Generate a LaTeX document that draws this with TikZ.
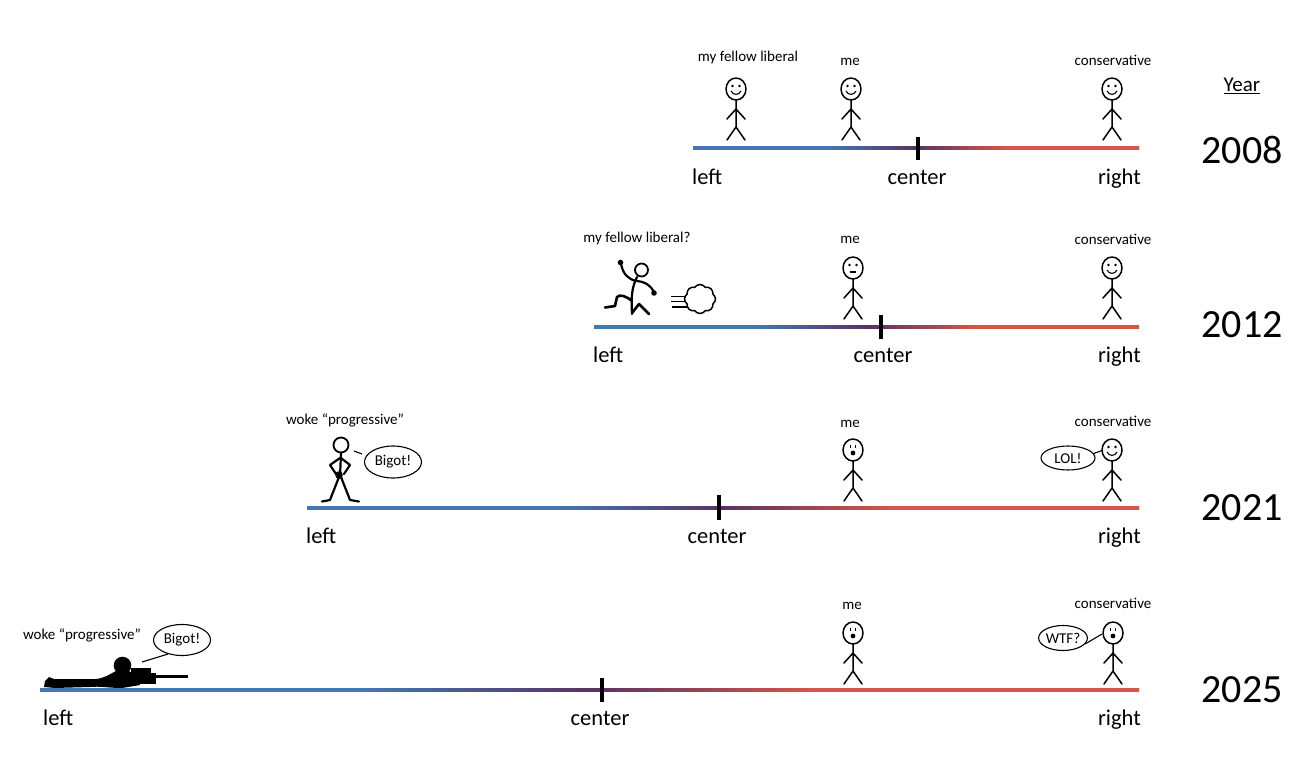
\documentclass[tikz,border=0pt]{standalone}
\usepackage{fontspec}
\setmainfont{Carlito}
\usetikzlibrary{shapes.geometric,shapes.symbols}
\definecolor{lblue}{RGB}{68,118,178}
\definecolor{lmid}{RGB}{88,52,98}
\definecolor{lred}{RGB}{214,84,74}
\pgfdeclarehorizontalshading{lrshade}{100bp}{color(0bp)=(lblue); color(25bp)=(lblue); color(40bp)=(lblue); color(50bp)=(lmid); color(60bp)=(lred); color(75bp)=(lred); color(100bp)=(lred)}
\tikzset{
  fig/.style={line width=1.5pt, line cap=round, line join=round},
  figbody/.pic={
    \draw[fig] (0,0) ellipse[x radius=10pt, y radius=11pt];
    \draw[fig] (0,11)--(0,38) (-9,30)--(0,20)--(9,30) (-9,51)--(0,38)--(9,51);},
  smileman/.pic={\pic{figbody};
    \fill (-3.5,-3) circle[radius=1.4pt] (3.5,-3) circle[radius=1.4pt];
    \draw[line width=1.1pt] (-5,2) .. controls (-3,6.5) and (3,6.5) .. (5,2);},
  flatman/.pic={\pic{figbody};
    \fill (-3.5,-3) circle[radius=1.4pt] (3.5,-3) circle[radius=1.4pt];
    \draw[line width=1.1pt] (-3,4)--(3,4);},
  shockman/.pic={\pic{figbody};
    \draw[line width=1.1pt] (-2.5,-5.5)--(-2.5,-2.5) (2.5,-5.5)--(2.5,-2.5);
    \fill (0,3) circle[radius=2.4pt];},
  lab/.style={font=\fontsize{15}{18}\selectfont, inner sep=0pt, anchor=base},
  axlab/.style={font=\fontsize{22.5}{27}\selectfont, inner sep=0pt},
  yearlab/.style={font=\fontsize{40}{48}\selectfont, inner sep=0pt},
  bubble/.style={draw, ellipse, line width=1.1pt, inner sep=0pt, font=\fontsize{15}{18}\selectfont},
  ticker/.style={line width=3.2pt},
  runner/.style={line width=2.2pt, line cap=round, line join=round},
}
\begin{document}
\begin{tikzpicture}[x=1pt,y=-1pt]
\useasboundingbox (0,0) rectangle (1296,784);
\fill[white] (0,0) rectangle (1296,784);

% Year header
\node[inner sep=0pt, font=\fontsize{21}{25}\selectfont] (year) at (1242,86) {\underline{Year}};

% ---------------- 2008 ----------------
\shade[shading=lrshade] (693,146.3) rectangle (1139,149.7);
\draw[ticker] (918,137)--(918,160);
\node[axlab, anchor=base west] (left1) at (692,184) {left};
\node[axlab, anchor=base] (center1) at (917,184) {center};
\node[axlab, anchor=base east] (right1) at (1141,184) {right};
\node[yearlab] (y2008) at (1242,150) {2008};
\node[lab] (lib1) at (748,62) {my fellow liberal};
\node[lab] (me1) at (850,66) {me};
\node[lab] (con1) at (1113,66) {conservative};
\pic at (736,89) {smileman};
\pic at (851,89) {smileman};
\pic at (1112,89) {smileman};

% ---------------- 2012 ----------------
\shade[shading=lrshade] (594,325.3) rectangle (1139,328.7);
\draw[ticker] (881,315)--(881,339);
\node[axlab, anchor=base west] (left2) at (593,362) {left};
\node[axlab, anchor=base] (center2) at (883,362) {center};
\node[axlab, anchor=base east] (right2) at (1141,362) {right};
\node[yearlab] (y2012) at (1242,325) {2012};
\node[lab] (lib2) at (637,242) {my fellow liberal?};
\node[lab] (me2) at (850,243) {me};
\node[lab] (con2) at (1113,244) {conservative};
\pic at (853,268) {flatman};
\pic at (1112,268) {smileman};
% running figure
\draw[runner, line width=1.8pt] (641.5,270) circle[radius=6.5pt];
\draw[runner] (637,277) .. controls (632,287) and (631,296) .. (632,314);
\draw[runner] (636,281) .. controls (628,279) and (623,274) .. (621,264);
\fill (620.5,262.5) circle[radius=2.8pt];
\draw[runner] (637,281) .. controls (646,282) and (651,286) .. (654,292);
\fill (654,293) circle[radius=2.8pt];
\draw[runner, line width=2.6pt] (632,301) .. controls (626,296) and (620,294) .. (617,297) -- (615,306) -- (605,307.5);
\draw[runner, line width=2.6pt] (632,313) -- (639,304) -- (649,314);
% speed lines and puff
\draw[line width=1.5pt] (671,296.5)--(687,296.5) (671,301.5)--(688,301.5) (672,307)--(687,307);
\node[cloud, draw, cloud puffs=8, cloud puff arc=110, aspect=1.05, minimum width=31pt, minimum height=29pt, line width=1.5pt, fill=white, inner sep=0pt] (puff) at (700,299) {};

% ---------------- 2021 ----------------
\shade[shading=lrshade] (307,506.3) rectangle (1139,509.7);
\draw[ticker] (719,495)--(719,520);
\node[axlab, anchor=base west] (left3) at (306,543) {left};
\node[axlab, anchor=base] (center3) at (717,543) {center};
\node[axlab, anchor=base east] (right3) at (1141,543) {right};
\node[yearlab] (y2021) at (1242,508) {2021};
\node[lab] (woke3) at (345,424) {woke “progressive”};
\node[lab] (me3) at (850,427) {me};
\node[lab] (con3) at (1113,426) {conservative};
\pic at (853,450) {shockman};
\pic at (1112,450) {smileman};
% woke figure, hands on hips
\draw[runner, line width=1.8pt] (341,445) circle[radius=7.5pt];
\draw[runner] (341,453) -- (340,477);
\draw[runner] (340,458) -- (330,465) -- (336,474);
\draw[runner] (341,458) -- (350,465) -- (344,474);
\fill (339,475) circle[radius=3.8pt];
\draw[runner] (339,477) -- (330,500) -- (322,501.5);
\draw[runner] (341,477) -- (350,500) -- (359,501.5);
\node[bubble, minimum width=57pt, minimum height=32pt] (bub3) at (393,462) {Bigot!};
\coordinate (woke3mouth) at (354,451);
\draw[line width=1.1pt] (woke3mouth) -- (362,454);
\node[bubble, minimum width=54pt, minimum height=24pt] (lol) at (1068,458) {LOL!};
\coordinate (con3mouth) at (1102,450.5);
\draw[line width=1.1pt] (lol.10) -- (con3mouth);

% ---------------- 2025 ----------------
\shade[shading=lrshade] (40,688.3) rectangle (1139,691.7);
\draw[ticker] (602,678)--(602,702);
\node[axlab, anchor=base west] (left4) at (43,725) {left};
\node[axlab, anchor=base] (center4) at (600,725) {center};
\node[axlab, anchor=base east] (right4) at (1141,725) {right};
\node[yearlab] (y2025) at (1242,690) {2025};
\node[lab] (woke4) at (82,639) {woke “progressive”};
\node[lab] (me4) at (852,609) {me};
\node[lab] (con4) at (1113,608) {conservative};
\pic at (853,633) {shockman};
\pic at (1113,633) {shockman};
% prone sniper
\fill (122.5,665.5) circle[radius=8.8pt];
\fill[line join=round] (44,687) -- (45,681) -- (49,677) -- (54,679) -- (96,679)
  .. controls (105,678) and (110,674) .. (116,671) -- (127,670) -- (136,675)
  -- (140,685) -- (122,688) .. controls (108,688) and (100,686) .. (90,687) -- (55,688) -- cycle;
\fill (128,673) rectangle (156,684);
\fill (131,668) rectangle (151,673);
\fill (150,674.5) rectangle (188,677.5);
\node[bubble, minimum width=57pt, minimum height=31pt] (bub4) at (182,640) {Bigot!};
\coordinate (snipermouth) at (142,662);
\draw[line width=1.1pt] (bub4.225) -- (snipermouth);
\node[bubble, minimum width=48pt, minimum height=25pt] (wtf) at (1063,638) {WTF?};
\coordinate (con4mouth) at (1102,634);
\draw[line width=1.1pt] (wtf.-15) -- (con4mouth);
\end{tikzpicture}
\end{document}
